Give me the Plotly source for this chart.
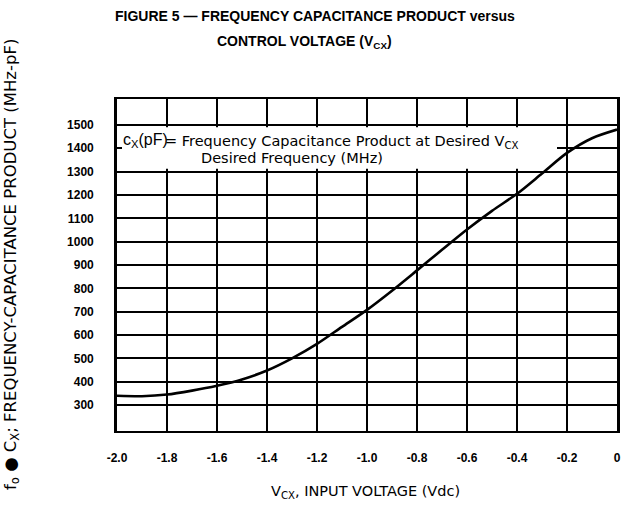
import plotly.graph_objects as go

# Data
vcx = [-2.0, -1.9, -1.8, -1.7, -1.6, -1.5, -1.4, -1.3, -1.2, -1.1, -1.0,
       -0.9, -0.8, -0.7, -0.6, -0.5, -0.4, -0.3, -0.2, -0.1, 0.0]
fc_product = [340, 338, 345, 362, 383, 410, 448, 500, 562, 635, 708,
              790, 877, 965, 1052, 1132, 1205, 1292, 1380, 1443, 1480]

x_tickvals = [-2.0, -1.8, -1.6, -1.4, -1.2, -1.0, -0.8, -0.6, -0.4, -0.2, 0.0]
x_ticktext = ["-2.0", "-1.8", "-1.6", "-1.4", "-1.2", "-1.0", "-0.8", "-0.6", "-0.4", "-0.2", "0"]
y_tickvals = [300, 400, 500, 600, 700, 800, 900, 1000, 1100, 1200, 1300, 1400, 1500]
y_ticktext = [str(v) for v in y_tickvals]

LBL = "Liberation Sans, Arial, sans-serif"
TXT = "DejaVu Sans, sans-serif"
TTL = "Liberation Sans Narrow, Arial Narrow, Liberation Sans, sans-serif"

fig = go.Figure()
fig.add_trace(go.Scatter(x=vcx, y=fc_product, mode="lines",
                         line=dict(color="black", width=2.6, shape="spline", smoothing=0.8),
                         hoverinfo="skip", showlegend=False))

fig.update_layout(
    width=622, height=508,
    margin=dict(l=117, r=5, t=99, b=77, autoexpand=False),
    paper_bgcolor="white", plot_bgcolor="white",
    showlegend=False,
    xaxis=dict(range=[-2.0, 0.0], tickvals=x_tickvals, ticktext=x_ticktext,
               showgrid=True, gridcolor="black", gridwidth=1.8,
               showline=True, linecolor="black", linewidth=2.2, mirror=True,
               zeroline=False, ticks="", ticklabelstandoff=14, automargin=False,
               tickfont=dict(family=LBL, size=12, color="black", weight="bold")),
    yaxis=dict(range=[189, 1611], tickvals=y_tickvals, ticktext=y_ticktext,
               showgrid=True, gridcolor="black", gridwidth=1.8,
               showline=True, linecolor="black", linewidth=2.6, mirror=True,
               zeroline=False, ticks="", ticklabelstandoff=18, automargin=False,
               tickfont=dict(family=LBL, size=12, color="black", weight="bold")),
)

# white box behind the formula text
fig.add_shape(type="rect", xref="x", yref="y", x0=-1.98, x1=-0.24, y0=1312, y1=1490,
              fillcolor="white", line=dict(width=0), layer="between")

fig.add_annotation(x=-1.984, y=1432, xref="x", yref="y", xanchor="left", yanchor="middle",
                   text="c<sub>X</sub>(pF)", showarrow=False,
                   font=dict(family=LBL, size=16, color="black"))
fig.add_annotation(x=-1.818, y=1428, xref="x", yref="y", xanchor="left", yanchor="middle",
                   text="= Frequency Capacitance Product at Desired V<sub>CX</sub>", showarrow=False,
                   font=dict(family=TXT, size=14.5, color="black"))
fig.add_annotation(x=-1.671, y=1360, xref="x", yref="y", xanchor="left", yanchor="middle",
                   text="Desired Frequency (MHz)", showarrow=False,
                   font=dict(family=TXT, size=14.5, color="black"))

# title
fig.add_annotation(x=0.395, y=1.25, xref="paper", yref="paper", xanchor="center", yanchor="middle",
                   text="<b>FIGURE 5 — FREQUENCY CAPACITANCE PRODUCT versus</b>", showarrow=False,
                   font=dict(family=TTL, size=14, color="black"))
fig.add_annotation(x=0.375, y=1.172, xref="paper", yref="paper", xanchor="center", yanchor="middle",
                   text="<b>CONTROL VOLTAGE (V<sub>CX</sub>)</b>", showarrow=False,
                   font=dict(family=TTL, size=14, color="black"))

# x-axis title
fig.add_annotation(x=0.497, y=-0.183, xref="paper", yref="paper", xanchor="center", yanchor="middle",
                   text="V<sub>CX</sub>, INPUT VOLTAGE (Vdc)", showarrow=False,
                   font=dict(family=TXT, size=14.5, color="black"))

# y-axis title
fig.add_annotation(x=-0.212, y=0.5, xref="paper", yref="paper", xanchor="center", yanchor="middle",
                   textangle=-90,
                   text="f<sub>o</sub> ● C<sub>X</sub>; FREQUENCY-CAPACITANCE PRODUCT (MHz-pF)",
                   showarrow=False, font=dict(family=TXT, size=16.5, color="black"))

fig.write_html("out.html", config={"displayModeBar": False},
               post_script="document.body.style.margin='0';")
